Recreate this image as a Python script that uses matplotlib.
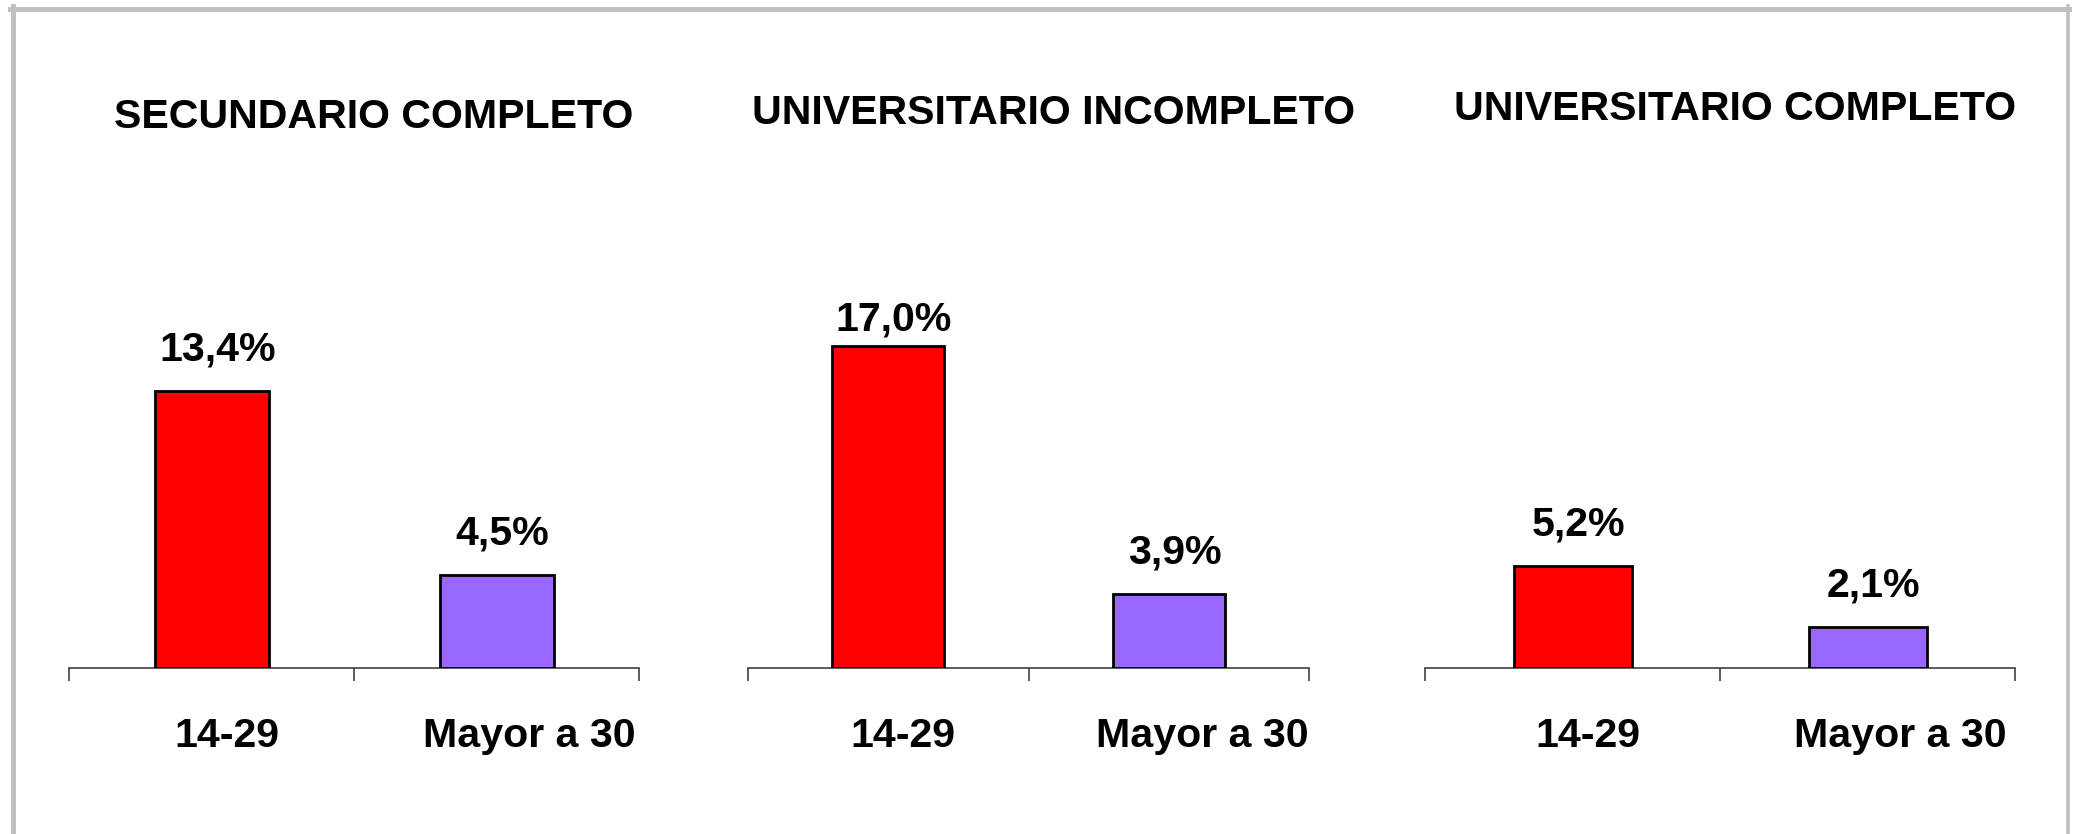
import numpy as np
import matplotlib.pyplot as plt
from matplotlib.lines import Line2D
from matplotlib.transforms import ScaledTranslation

plt.rcParams['font.family'] = ['Liberation Sans', 'DejaVu Sans']

# data
titles = ["SECUNDARIO COMPLETO", "UNIVERSITARIO INCOMPLETO", "UNIVERSITARIO COMPLETO"]
categories = ["14-29", "Mayor a 30"]
young = [13.4, 17.0, 5.2]      # 14-29
older = [4.5, 3.9, 2.1]        # Mayor a 30
value_labels = [["13,4%", "4,5%"], ["17,0%", "3,9%"], ["5,2%", "2,1%"]]

bar_colors = ["#FF0000", "#9966FF"]

W, H = 2073, 834
fig = plt.figure(figsize=(W / 100, H / 100), dpi=100)

# layout in pixels (left, right) of each panel, common baseline / top
panel_px = [(69, 639), (748, 1309), (1425, 2015)]
base_px = 668
top_px = 300
ymaxs = [17.78, 19.42, 18.73]
title_pos = [(374, 127.5), (1054, 123.5), (1735, 120.5)]
label_shift = [15, 33]   # px shift of category labels to the right

FS = 29.6

for i in range(3):
    x0, x1 = panel_px[i]
    ax = fig.add_axes([x0 / W, 1 - base_px / H, (x1 - x0) / W, (base_px - top_px) / H])
    vals = [young[i], older[i]]
    xs = np.arange(len(categories))
    ax.bar(xs, vals, width=0.4, color=bar_colors, edgecolor="black", linewidth=2.0, zorder=3)
    ax.set_xlim(-0.5, 1.5)
    ax.set_ylim(0, ymaxs[i])

    # value labels above bars (kept inside the plot area)
    scale = (base_px - top_px) / ymaxs[i]
    for x, v, lab in zip(xs, vals, value_labels[i]):
        y = min(v + 30.5 / scale, ymaxs[i] - 31 / scale)
        ax.text(x + 0.02, y, lab, ha="center", va="baseline", fontsize=FS, fontweight="bold")

    for s in ["top", "left", "right"]:
        ax.spines[s].set_visible(False)
    ax.spines["bottom"].set_color("#404040")
    ax.spines["bottom"].set_linewidth(1.2)
    ax.set_yticks([])

    ax.set_xticks(xs)
    ax.set_xticklabels(categories, fontsize=FS, fontweight="bold")
    ax.set_xticks([-0.5, 0.5, 1.5], minor=True)
    ax.tick_params(axis="x", which="major", length=0, pad=35.5)
    ax.tick_params(axis="x", which="minor", length=9.5, width=1.2, color="#404040", direction="out")
    for lab, dx in zip(ax.get_xticklabels(), label_shift):
        lab.set_transform(lab.get_transform() + ScaledTranslation(dx / 100, 0, fig.dpi_scale_trans))

    tx, ty = title_pos[i]
    fig.text(tx / W, 1 - ty / H, titles[i], ha="center", va="baseline",
             fontsize=FS, fontweight="bold")

# gray frame around the chart
gray = "#C0C0C0"
fig.add_artist(Line2D([12.5 / W, 12.5 / W], [0, 1 - 6 / H], transform=fig.transFigure, color=gray, lw=3.6))
fig.add_artist(Line2D([10 / W, 2069 / W], [1 - 8.5 / H, 1 - 8.5 / H], transform=fig.transFigure, color=gray, lw=3.6))
fig.add_artist(Line2D([2067.5 / W, 2067.5 / W], [0, 1 - 6 / H], transform=fig.transFigure, color=gray, lw=2.6))

fig.savefig("out.png", dpi=100, facecolor="white")
